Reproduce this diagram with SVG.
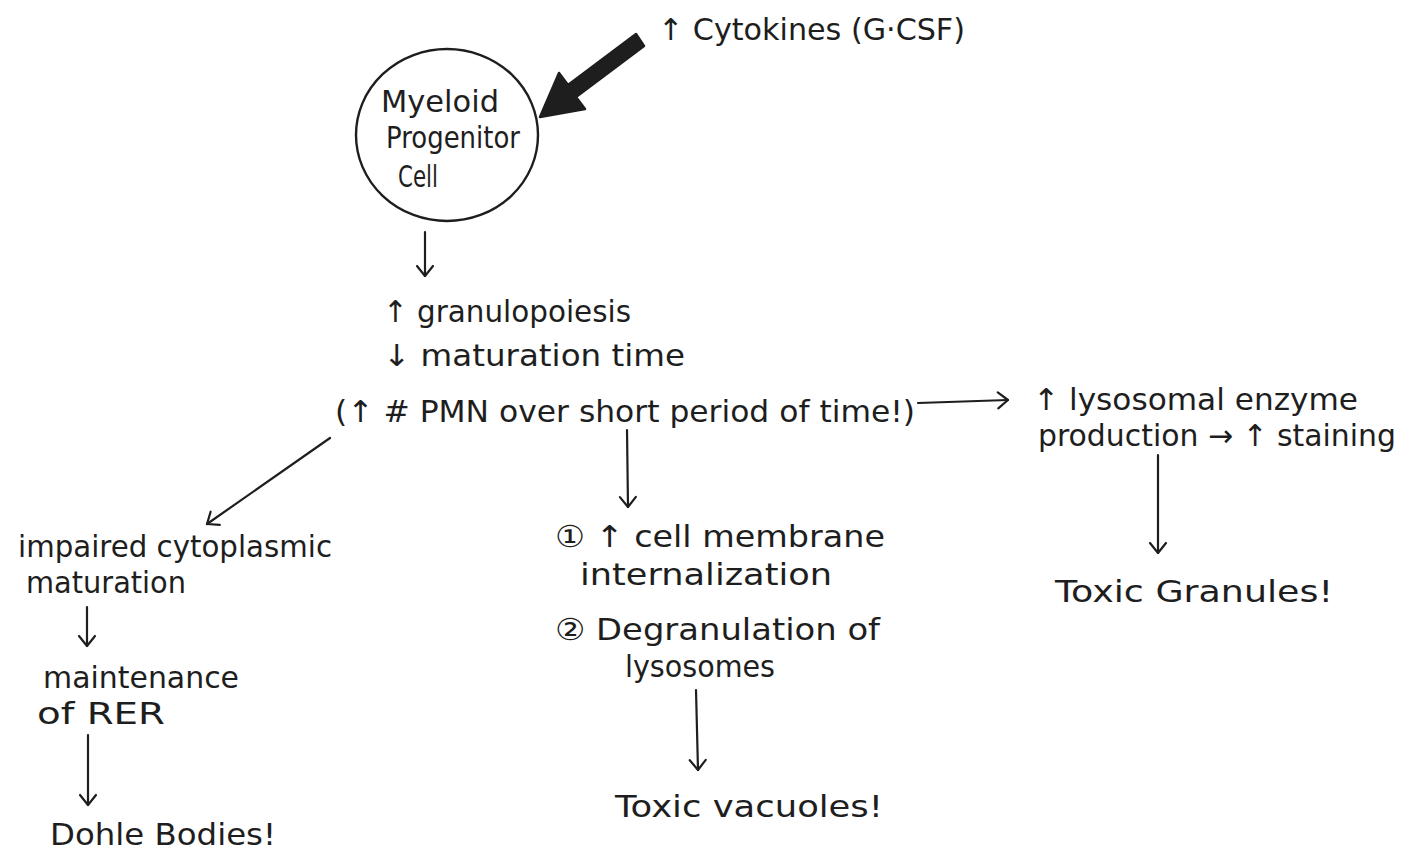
<svg xmlns="http://www.w3.org/2000/svg" width="1416" height="854" viewBox="0 0 1416 854">
<defs>
<style>
.t{font-family:"DejaVu Sans","Liberation Sans",sans-serif;font-size:30px;fill:#1e1e1e}
.ln{fill:none;stroke:#1e1e1e;stroke-width:2.2;stroke-linecap:round;stroke-linejoin:round}
</style>
<marker id="ah" viewBox="-12 -10 14 20" markerWidth="14" markerHeight="20" refX="0" refY="0" orient="auto" markerUnits="userSpaceOnUse">
<path d="M-10,-8 L0,0 L-10,8" fill="none" stroke="#1e1e1e" stroke-width="2.2" stroke-linecap="round" stroke-linejoin="round"/>
</marker>
</defs>
<rect width="1416" height="854" fill="#ffffff"/>

<g id="cytokines">
<text class="t" x="658" y="40" textLength="307" lengthAdjust="spacingAndGlyphs">↑ Cytokines (G·CSF)</text>
</g>

<g id="myeloid">
<ellipse cx="447" cy="135" rx="91" ry="86" fill="none" stroke="#1e1e1e" stroke-width="2.4"/>
<text class="t" x="381" y="112" textLength="118" lengthAdjust="spacingAndGlyphs">Myeloid</text>
<text class="t" x="386" y="148" textLength="134" lengthAdjust="spacingAndGlyphs">Progenitor</text>
<text class="t" x="398" y="187" textLength="40" lengthAdjust="spacingAndGlyphs">Cell</text>
</g>

<g id="granulopoiesis">
<text class="t" x="383" y="322" textLength="248" lengthAdjust="spacingAndGlyphs">↑ granulopoiesis</text>
<text class="t" x="383" y="366" textLength="302" lengthAdjust="spacingAndGlyphs">↓  maturation time</text>
<text class="t" x="335" y="422" textLength="580" lengthAdjust="spacingAndGlyphs">(↑ # PMN over short period of time!)</text>
</g>

<g id="lysosomal">
<text class="t" x="1033" y="410" textLength="325" lengthAdjust="spacingAndGlyphs">↑ lysosomal enzyme</text>
<text class="t" x="1038" y="446" textLength="358" lengthAdjust="spacingAndGlyphs">production → ↑ staining</text>
</g>

<g id="toxic-granules">
<text class="t" x="1055" y="602" textLength="278" lengthAdjust="spacingAndGlyphs">Toxic Granules!</text>
</g>

<g id="impaired">
<text class="t" x="18" y="557" textLength="314" lengthAdjust="spacingAndGlyphs">impaired cytoplasmic</text>
<text class="t" x="26" y="593" textLength="160" lengthAdjust="spacingAndGlyphs">maturation</text>
</g>

<g id="rer">
<text class="t" x="43" y="688" textLength="196" lengthAdjust="spacingAndGlyphs">maintenance</text>
<text class="t" x="37" y="724" textLength="128" lengthAdjust="spacingAndGlyphs">of RER</text>
</g>

<g id="dohle">
<text class="t" x="50" y="845" textLength="226" lengthAdjust="spacingAndGlyphs">Dohle Bodies!</text>
</g>

<g id="membrane">
<text class="t" x="555" y="547" textLength="330" lengthAdjust="spacingAndGlyphs">① ↑ cell membrane</text>
<text class="t" x="580" y="585" textLength="252" lengthAdjust="spacingAndGlyphs">internalization</text>
<text class="t" x="555" y="640" textLength="325" lengthAdjust="spacingAndGlyphs">② Degranulation of</text>
<text class="t" x="625" y="677" textLength="150" lengthAdjust="spacingAndGlyphs">lysosomes</text>
</g>

<g id="toxic-vacuoles">
<text class="t" x="615" y="817" textLength="268" lengthAdjust="spacingAndGlyphs">Toxic vacuoles!</text>
</g>

<g id="connectors">
<path d="M644,46 L576,97 L585,109 L540,117 L559,73 L568,85 L636,34 Z" fill="#1e1e1e" stroke="#1e1e1e" stroke-width="2.5" stroke-linejoin="round"/>
<path class="ln" d="M425,232 L425,276" marker-end="url(#ah)"/>
<path class="ln" d="M918,403 L1008,400" marker-end="url(#ah)"/>
<path class="ln" d="M1158,455 L1158,553" marker-end="url(#ah)"/>
<path class="ln" d="M330,438 L207,524" marker-end="url(#ah)"/>
<path class="ln" d="M627,430 L628,507" marker-end="url(#ah)"/>
<path class="ln" d="M87,607 L87,646" marker-end="url(#ah)"/>
<path class="ln" d="M88,735 L88,805" marker-end="url(#ah)"/>
<path class="ln" d="M696,690 L698,770" marker-end="url(#ah)"/>
</g>
</svg>
